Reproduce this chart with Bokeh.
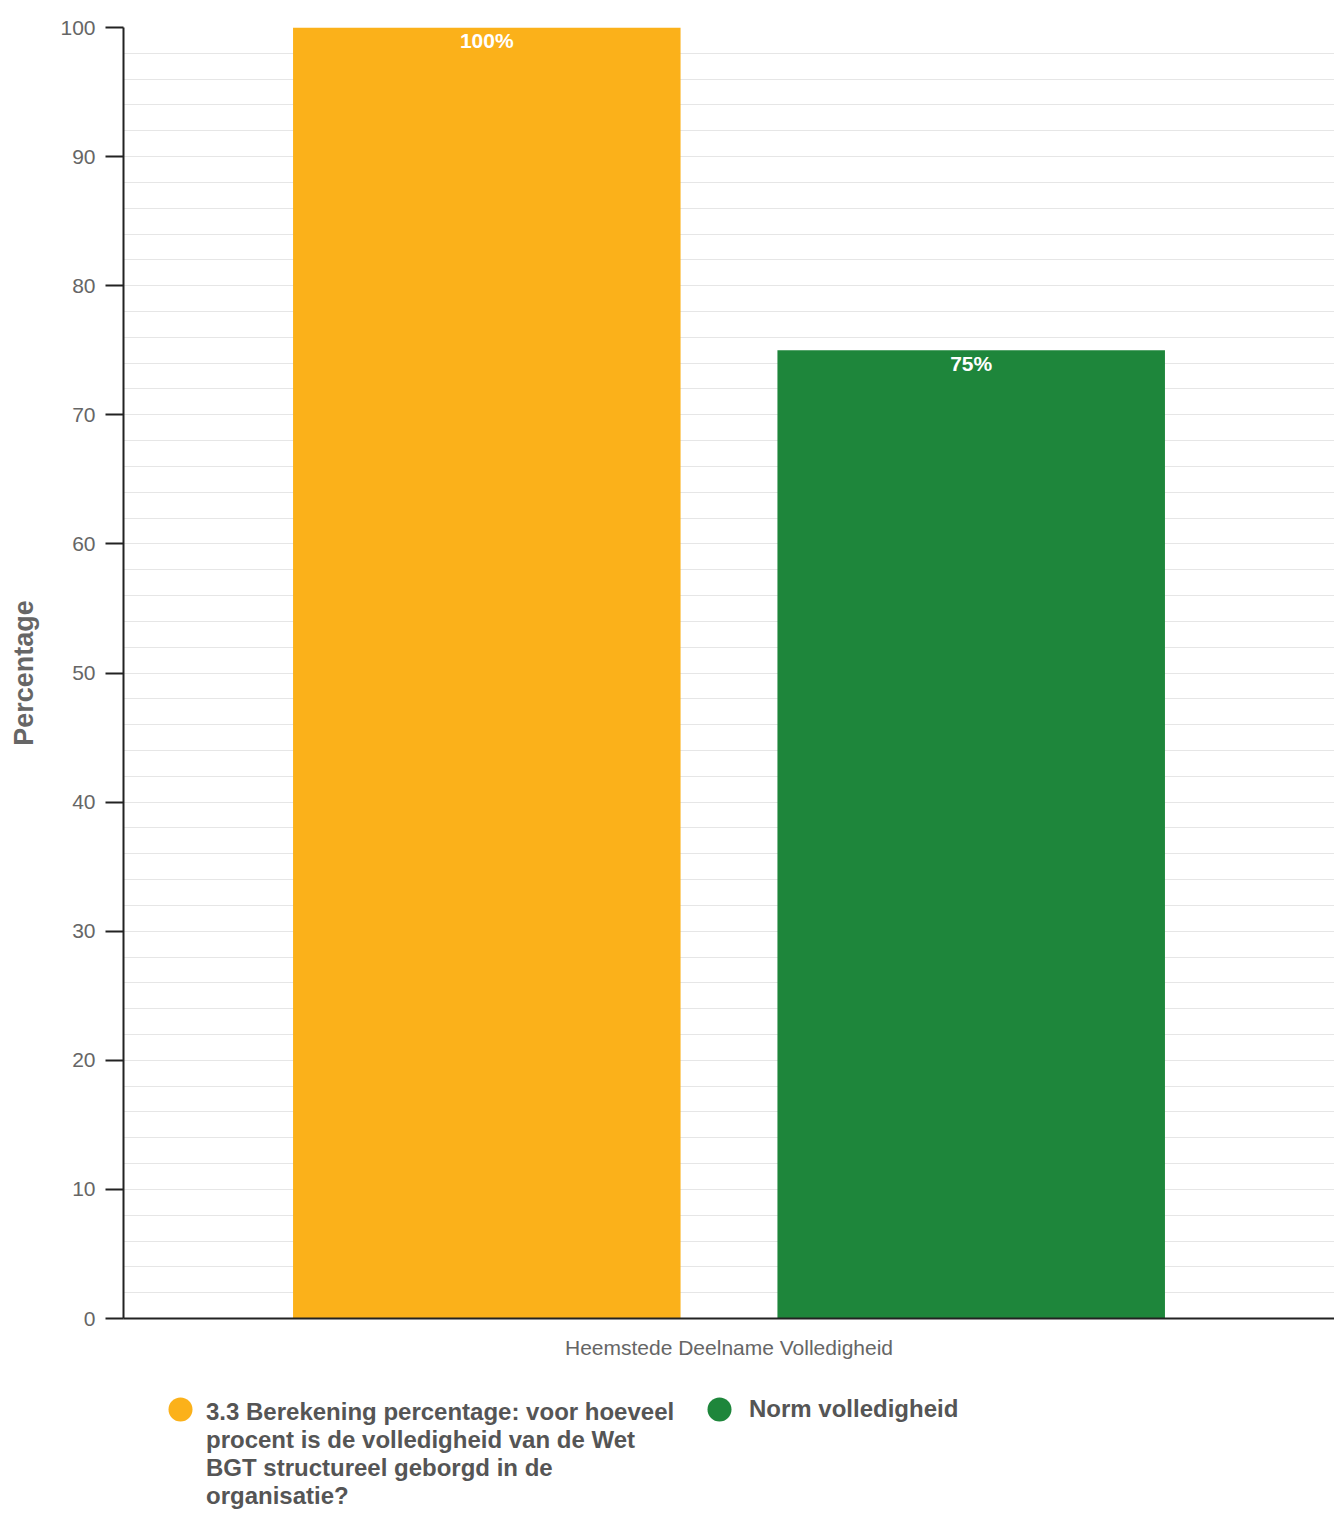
from bokeh.plotting import figure
from bokeh.layouts import column
from bokeh.models import (ColumnDataSource, FactorRange, Range1d, SingleIntervalTicker,
                          Legend, LegendItem)
from bokeh.transform import dodge
from bokeh.core.properties import value
from bokeh.embed import file_html
from bokeh.resources import INLINE

# ---- data ----
categories = ["Heemstede Deelname Volledigheid"]
series_names = [
    "3.3 Berekening percentage: voor hoeveel\nprocent is de volledigheid van de Wet\nBGT structureel geborgd in de\norganisatie?",
    "Norm volledigheid",
]
series_values = [[100], [75]]
y_label = "Percentage"

# ---- style ----
colors = ["#FBB11A", "#1E863B"]
offsets = [-0.2, 0.2]
FONT = "Liberation Sans"

p = figure(width=1334, height=1375, x_range=FactorRange(factors=categories),
           y_range=Range1d(0, 100), output_backend="svg", toolbar_location=None,
           min_border_left=123, min_border_right=0, min_border_top=27, min_border_bottom=57)
p.outline_line_color = None
p.background_fill_color = "white"

# legend strip below the chart (its own range keeps the legend handles off-screen)
p2 = figure(width=1334, height=138, x_range=FactorRange(factors=categories),
            y_range=Range1d(-2, -1), output_backend="svg", toolbar_location=None,
            x_axis_type=None, y_axis_type=None,
            min_border_left=0, min_border_right=0, min_border_top=0, min_border_bottom=0)
p2.outline_line_color = None
p2.xgrid.visible = False
p2.ygrid.visible = False


def make_legend(label, handle, loc):
    return Legend(items=[LegendItem(label=label, renderers=[handle])],
                  location=loc, orientation="horizontal",
                  margin=0, padding=0, spacing=0, label_standoff=0,
                  glyph_width=60, glyph_height=60,
                  label_text_font=FONT, label_text_font_style="bold",
                  label_text_font_size="24px", label_text_color="#555555",
                  border_line_color=None, background_fill_alpha=0)


handles = []
sources = []
for name, vals, col, off in zip(series_names, series_values, colors, offsets):
    src = ColumnDataSource(dict(x=categories, top=vals, lab=[f"{v}%" for v in vals]))
    sources.append(src)
    p.vbar(x=dodge("x", off, range=p.x_range), top="top", width=0.32, source=src,
           fill_color=col, line_color=None)
    p.text(x=dodge("x", off, range=p.x_range), y="top", text="lab", source=src,
           y_offset=13, text_align="center", text_baseline="middle",
           text_font=value(FONT), text_font_style="bold", text_font_size="21px",
           text_color="white")
    handles.append(p2.circle(x="x", y="top", radius=12, radius_units="screen", source=src,
                             fill_color=col, line_color=None))

# transparent handle so the wrapped label of series 1 can be placed on its own
text_handle = p2.circle(x="x", y="top", radius=12, radius_units="screen", source=sources[0],
                        fill_alpha=0, line_alpha=0)

# first series: marker beside the first line of its wrapped label
p2.add_layout(make_legend(" ", handles[0], (27, 74)), "center")
p2.add_layout(make_legend(series_names[0], text_handle, (23, 3)), "center")
# second series
p2.add_layout(make_legend(series_names[1], handles[1], (566, 74)), "center")

# y axis
p.yaxis.ticker = SingleIntervalTicker(interval=10)
p.yaxis.minor_tick_line_color = None
p.yaxis.major_tick_out = 18
p.yaxis.major_tick_in = 0
p.yaxis.major_tick_line_color = "#222222"
p.yaxis.major_tick_line_width = 2
p.yaxis.axis_line_color = "#222222"
p.yaxis.axis_line_width = 2
p.yaxis.major_label_text_font = FONT
p.yaxis.major_label_text_font_size = "21px"
p.yaxis.major_label_text_color = "#666666"
p.yaxis.major_label_standoff = 10
p.yaxis.axis_label = y_label
p.yaxis.axis_label_text_font = FONT
p.yaxis.axis_label_text_font_size = "27px"
p.yaxis.axis_label_text_font_style = "bold"
p.yaxis.axis_label_text_color = "#666666"
p.yaxis.axis_label_standoff = 18

# x axis
p.xaxis.major_tick_out = 0
p.xaxis.major_tick_in = 0
p.xaxis.minor_tick_line_color = None
p.xaxis.axis_line_color = "#222222"
p.xaxis.axis_line_width = 2
p.xaxis.major_label_text_font = FONT
p.xaxis.major_label_text_font_size = "21px"
p.xaxis.major_label_text_color = "#666666"
p.xaxis.major_label_standoff = 17

# grid
p.xgrid.grid_line_color = None
p.ygrid.ticker = SingleIntervalTicker(interval=2)
p.ygrid.grid_line_color = "#e6e6e6"
p.ygrid.grid_line_width = 1

layout = column(p, p2, spacing=0)
open("out.html", "w").write(file_html(layout, INLINE))
